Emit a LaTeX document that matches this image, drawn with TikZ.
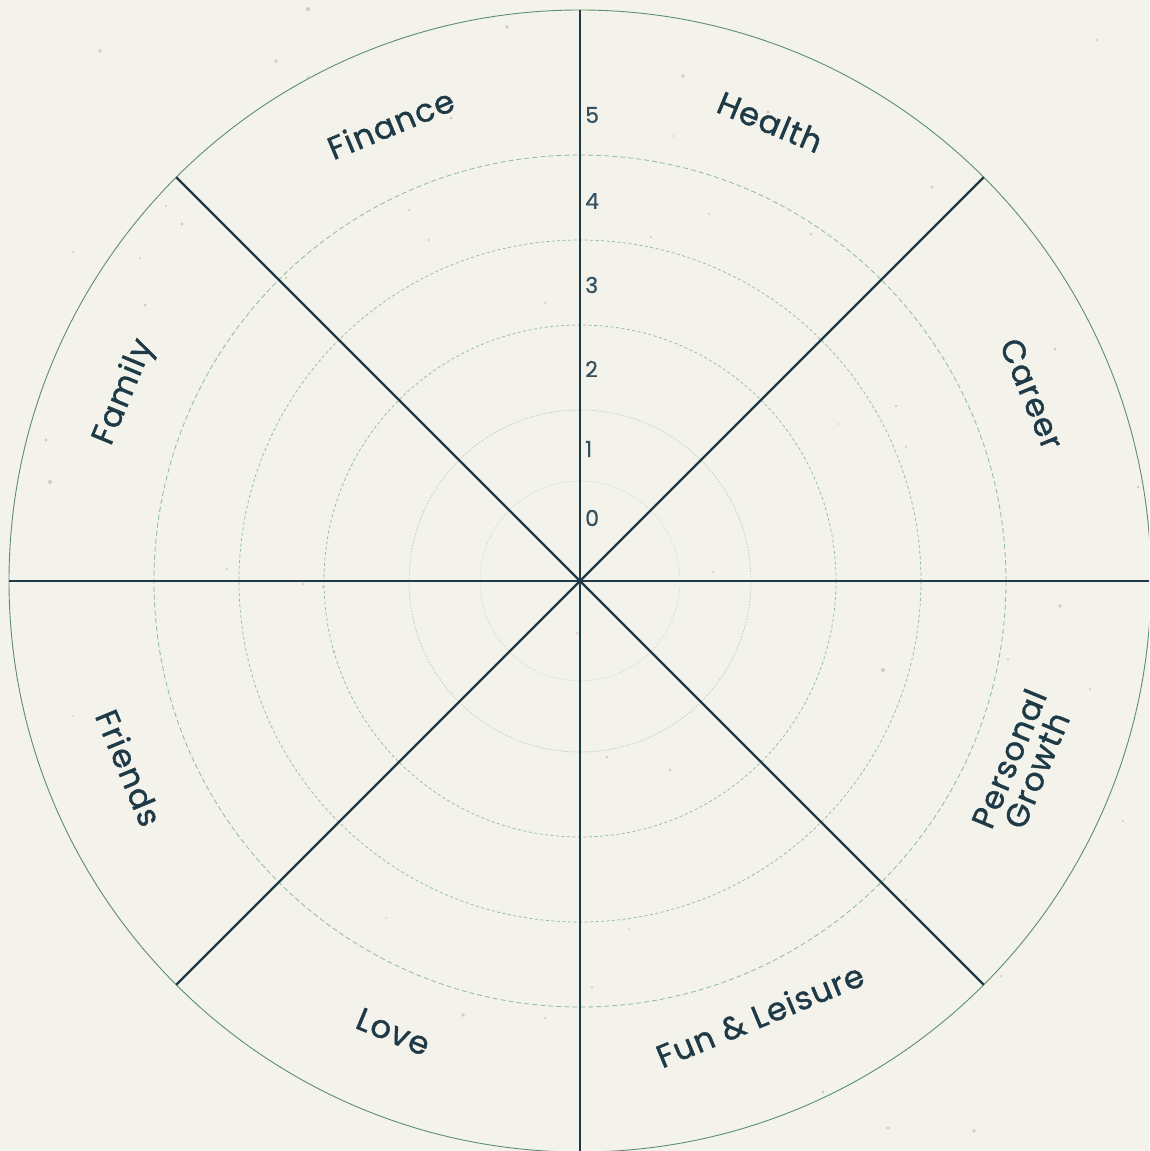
\documentclass[tikz,border=0pt]{standalone}
\usepackage{fontspec}
\setmainfont{Poppins}[FakeBold=0.6]
\newfontfamily\areafont{Poppins}[LetterSpace=4.0, FakeBold=1.2]
\usetikzlibrary{calc}
\definecolor{paper}{HTML}{F3F3EB}
\definecolor{ink}{HTML}{1F3A47}
\definecolor{numink}{HTML}{34505F}
\definecolor{rimgreen}{HTML}{5E8E6C}
\definecolor{ringgreen}{HTML}{8DBB9B}
\definecolor{ringpale}{HTML}{B9CCBD}
\definecolor{speck}{HTML}{C4A598}
\tikzset{
  x=1pt, y=-1pt,
  spoke/.style={draw=ink, line width=2.2pt},
  rim/.style={draw=rimgreen, line width=0.9pt},
  ringA/.style={draw=ringgreen, line width=0.8pt, dash pattern=on 5pt off 3pt},
  ringB/.style={draw=ringgreen, line width=0.7pt, dash pattern=on 3pt off 2.5pt},
  ringC/.style={draw=ringpale, line width=0.7pt, dash pattern=on 1.5pt off 1.5pt},
  ringD/.style={draw=ringpale!80!paper, line width=0.6pt, dash pattern=on 1pt off 1.5pt},
  area/.style={font=\areafont\fontsize{32}{30}\selectfont, text=ink, align=center, inner sep=0pt},
  num/.style={font=\fontsize{22}{23}\selectfont, text=numink, inner sep=0pt, anchor=west}
}
\begin{document}
\begin{tikzpicture}
\useasboundingbox (0,0) rectangle (1149,1151);
\fill[paper] (0,0) rectangle (1149,1151);
\begin{scope}
\clip (0,0) rectangle (1149,1151);
% specks
\pgfmathsetseed{11}
\foreach \i in {1,...,55}{
  \pgfmathsetmacro{\px}{random(5,1144)}
  \pgfmathsetmacro{\py}{random(5,1146)}
  \pgfmathsetmacro{\pr}{0.8+rnd*1.3}
  \fill[speck, opacity=0.55] (\px,\py) circle (\pr pt);
}
\coordinate (c) at (580,581);
% rings
\draw[ringD] (c) circle (100pt);
\draw[ringC] (c) circle (171pt);
\draw[ringB] (c) circle (256pt);
\draw[ringB] (c) circle (341pt);
\draw[ringA] (c) circle (426pt);
\draw[rim] (c) circle (571pt);
% spokes
\foreach \k in {0,...,7}{
  \coordinate (s\k) at ($(c)+(\k*45:571pt)$);
  \draw[spoke] (c) -- (s\k);
}
\end{scope}
% scale numbers
\node[num] (n0) at (585,518) {0};
\node[num] (n1) at (585,449) {1};
\node[num] (n2) at (585,369) {2};
\node[num] (n3) at (585,285) {3};
\node[num] (n4) at (585,201) {4};
\node[num] (n5) at (585,115) {5};
% area labels
\node[area, rotate=22.5]  (finance) at ($(c)+(112.5:495pt)$) {Finance};
\node[area, rotate=-22.5] (health)  at ($(c)+(67.5:497pt)$) {Health};
\node[area, rotate=-67.5] (career)  at ($(c)+(22.5:489pt)$) {Career};
\node[area, rotate=67.5]  (growth)  at ($(c)+(-22.5:479pt)$) {Personal\\Growth};
\node[area, rotate=22.5]  (fun)     at ($(c)+(-67.5:470pt)$) {Fun \& Leisure};
\node[area, rotate=-22.5] (love)    at ($(c)+(-112.5:488pt)$) {Love};
\node[area, rotate=-67.5] (friends) at ($(c)+(-157.5:488pt)$) {Friends};
\node[area, rotate=67.5]  (family)  at ($(c)+(157.5:493pt)$) {Family};
\end{tikzpicture}
\end{document}
